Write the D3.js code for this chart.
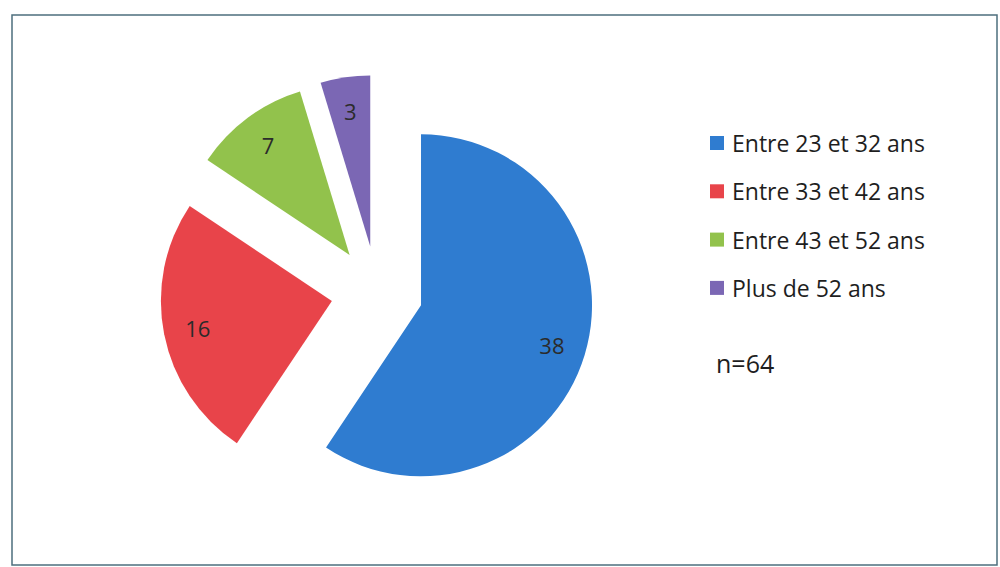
<!DOCTYPE html>
<html>
<head>
<meta charset="utf-8">
<script src="https://cdn.jsdelivr.net/npm/d3@7"></script>
<style>
  body { margin: 0; background: #fff; }
  svg { display: block; }
  text { font-family: "Open Sans", "Noto Sans", sans-serif; fill: #1e1e1e; }
</style>
</head>
<body>
<svg id="chart" width="1000" height="567"></svg>
<script>
const categories = ["Entre 23 et 32 ans", "Entre 33 et 42 ans", "Entre 43 et 52 ans", "Plus de 52 ans"];
const counts = [38, 16, 7, 3];
const colors = ["#2f7cd0", "#e8444a", "#92c24c", "#7b67b4"];
const sampleLabel = "n=64";

const svg = d3.select("#chart");

// frame around the chart
svg.append("rect")
    .attr("x", 12).attr("y", 15)
    .attr("width", 985).attr("height", 550)
    .attr("fill", "none")
    .attr("stroke", "#4d6f7e")
    .attr("stroke-width", 1.5);

const center = {x: 377, y: 292};
const radius = 171;
const explode = 46;

const data = categories.map((c, i) => ({name: c, value: counts[i], color: colors[i]}));

const pie = d3.pie().sort(null).value(d => d.value);
const arc = d3.arc().innerRadius(0).outerRadius(radius);
const labelArc = d3.arc().innerRadius(radius * 0.8).outerRadius(radius * 0.8);

const arcs = pie(data);

const g = svg.append("g").attr("transform", `translate(${center.x},${center.y})`);

const slice = g.selectAll("g.slice")
    .data(arcs)
    .enter().append("g")
    .attr("class", "slice")
    .attr("transform", d => {
        let mid = (d.startAngle + d.endAngle) / 2;
        return `translate(${explode * Math.sin(mid)},${-explode * Math.cos(mid)})`;
    });

slice.append("path")
    .attr("d", arc)
    .attr("fill", d => d.data.color);

slice.append("text")
    .attr("transform", d => `translate(${labelArc.centroid(d)})`)
    .attr("text-anchor", "middle")
    .attr("dominant-baseline", "central")
    .style("font-size", "22px")
    .style("fill", "#2b2b2b")
    .text(d => d.data.value);

// legend
const legend = svg.append("g").attr("transform", "translate(710,143)");
const rowH = 48.3;

const item = legend.selectAll("g.item")
    .data(data)
    .enter().append("g")
    .attr("class", "item")
    .attr("transform", (d, i) => `translate(0,${i * rowH})`);

item.append("rect")
    .attr("x", 0).attr("y", -7)
    .attr("width", 14).attr("height", 14)
    .attr("fill", d => d.color);

item.append("text")
    .attr("x", 22)
    .attr("dominant-baseline", "central")
    .style("font-size", "23px")
    .text(d => d.name);

svg.append("text")
    .attr("x", 716)
    .attr("y", 363)
    .attr("dominant-baseline", "central")
    .style("font-size", "25px")
    .text(sampleLabel);
</script>
</body>
</html>
